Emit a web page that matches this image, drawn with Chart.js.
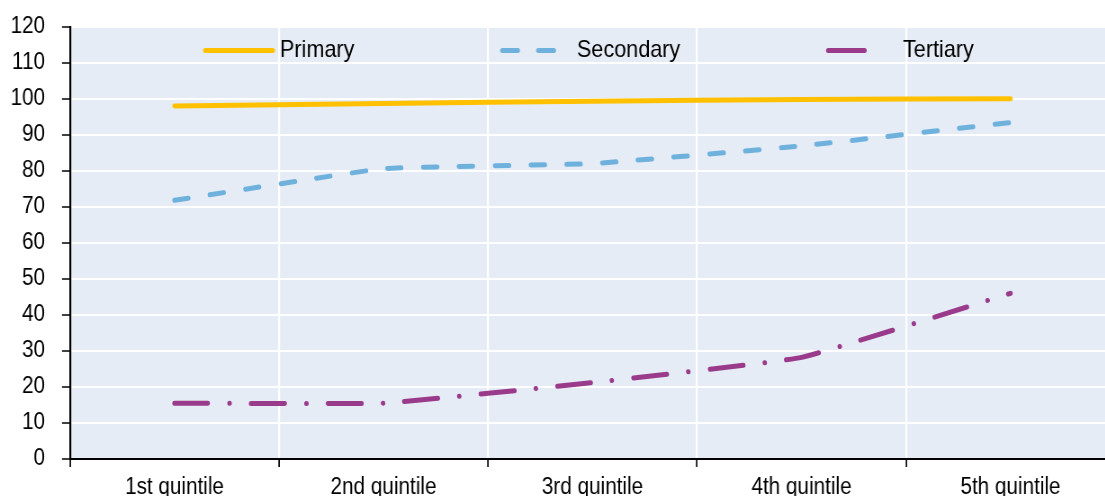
<!DOCTYPE html>
<html>
<head>
<meta charset="utf-8">
<script src="https://cdn.jsdelivr.net/npm/chart.js@4.4.1/dist/chart.umd.min.js"></script>
<style>
  html, body { margin: 0; padding: 0; background: #ffffff; overflow: hidden; }
  #wrap { width: 1240px; height: 496px; position: absolute; left: 0; top: 0;
          transform: scaleX(0.9); transform-origin: 0 0; }
  #c { display: block; }
</style>
</head>
<body>
<div id="wrap"><canvas id="c" width="1240" height="496"></canvas></div>
<script>
// ---- Data ----
const categories = ['1st quintile', '2nd quintile', '3rd quintile', '4th quintile', '5th quintile'];
const seriesNames = ['Primary', 'Secondary', 'Tertiary'];
const primary   = [98.0, 98.7, 99.3, 99.8, 100.0];
const secondary = [71.8, 80.6, 82.0, 86.9, 93.4];
const tertiary  = [15.5, 15.5, 21.2, 28.2, 46.0];
const yTicks = [0, 10, 20, 30, 40, 50, 60, 70, 80, 90, 100, 110, 120];

const FONT = "'Liberation Sans', Arial, sans-serif";
const SX = 0.9; // horizontal squeeze applied by CSS (condensed look of the original)

const plotBg = {
  id: 'plotBg',
  beforeDraw(chart) {
    const { ctx, chartArea: a } = chart;
    ctx.save();
    ctx.fillStyle = '#E6ECF5';
    ctx.fillRect(a.left, a.top, a.right - a.left, a.bottom - a.top);
    ctx.restore();
  }
};

// legend drawn inside the plot area (canvas coordinates, before the squeeze)
const legendSpec = [
  { x0: 228.1, x1: 303.1, tx: 311.1, dash: [] },
  { x0: 558.1, x1: 615.3, tx: 641.1, dash: [17.2, 22.8] },
  { x0: 920.3, x1: 983.3, tx: 1003.3, dash: [40.2, 22.8, 0.01, 100] }
];
const innerLegend = {
  id: 'innerLegend',
  afterDatasetsDraw(chart) {
    const { ctx } = chart;
    const y = 50.5;
    chart.data.datasets.forEach((ds, i) => {
      const s = legendSpec[i];
      ctx.save();
      ctx.strokeStyle = ds.borderColor;
      ctx.lineWidth = ds.borderWidth;
      ctx.lineCap = 'round';
      ctx.setLineDash(s.dash);
      ctx.beginPath();
      ctx.moveTo(s.x0, y);
      ctx.lineTo(s.x1, y);
      ctx.stroke();
      ctx.setLineDash([]);
      ctx.fillStyle = '#000';
      ctx.font = '24px ' + FONT;
      ctx.textBaseline = 'middle';
      ctx.textAlign = 'left';
      ctx.fillText(ds.label, s.tx, y);
      ctx.restore();
    });
  }
};

new Chart(document.getElementById('c'), {
  type: 'line',
  data: {
    labels: categories,
    datasets: [
      { label: seriesNames[0], data: primary, borderColor: '#FFC000', borderWidth: 5,
        borderCapStyle: 'round', borderJoinStyle: 'round', pointRadius: 0, tension: 0.1 },
      { label: seriesNames[1], data: secondary, borderColor: '#6FB1DD', borderWidth: 5,
        borderDash: [15.5, 24.3], borderCapStyle: 'round', borderJoinStyle: 'round', pointRadius: 0, tension: 0.1 },
      { label: seriesNames[2], data: tertiary, borderColor: '#993A8B', borderWidth: 5,
        borderDash: [37.2, 24, 0.01, 24], borderCapStyle: 'round', borderJoinStyle: 'round', pointRadius: 0, tension: 0.1 }
    ]
  },
  options: {
    responsive: false,
    animation: false,
    layout: { padding: { top: 26.7, right: 1.1, left: 0, bottom: 0 } },
    plugins: { legend: { display: false }, tooltip: { enabled: false } },
    scales: {
      x: {
        type: 'category',
        offset: true,
        grid: { offset: true, color: '#ffffff', lineWidth: 2 / SX, tickColor: '#000000', tickLength: 8, tickWidth: 1.5 / SX },
        border: { color: '#000000', width: 2 },
        ticks: { color: '#000000', font: { family: FONT, size: 23 }, padding: 7, maxRotation: 0, autoSkip: false },
        afterFit(scale) { scale.height = 37; scale.paddingLeft = 0; scale.paddingRight = 0; }
      },
      y: {
        min: 0, max: 120,
        afterBuildTicks(scale) { scale.ticks = yTicks.map(v => ({ value: v })); },
        grid: { color: '#ffffff', lineWidth: 2, tickColor: '#000000', tickLength: 8 / SX, tickWidth: 1.5 },
        border: { color: '#000000', width: 2 / SX },
        ticks: { color: '#000000', font: { family: FONT, size: 23 }, padding: 17 / SX },
        afterFit(scale) { scale.width = 70 / SX; scale.paddingTop = 0; scale.paddingBottom = 0; }
      }
    }
  },
  plugins: [plotBg, innerLegend]
});
</script>
</body>
</html>
